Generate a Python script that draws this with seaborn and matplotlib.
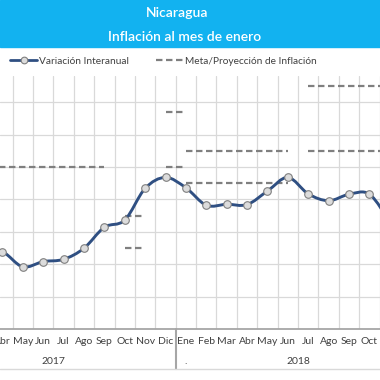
import matplotlib
matplotlib.use("Agg")
import matplotlib.pyplot as plt
import seaborn as sns
from matplotlib.lines import Line2D
from matplotlib.path import Path
from matplotlib.patches import PathPatch, Rectangle
import matplotlib.transforms as mtransforms

# Datos
meses = ['Ene', 'Feb', 'Mar', 'Abr', 'May', 'Jun', 'Jul', 'Ago', 'Sep', 'Oct', 'Nov', 'Dic'] * 2
anios = ['2017', '2018']

# Variacion interanual, de Mar 2017 (indice 2) a Nov 2018 (indice 22)
var_inicio = 2
variacion = [3.45, 3.39, 2.92, 3.08, 3.15, 3.49, 4.14, 4.36, 5.34, 5.68,
             5.36, 4.82, 4.85, 4.84, 5.26, 5.68, 5.17, 4.96, 5.16, 5.16, 4.30]

# Meta/Proyeccion: tramos (mes inicial, mes final, valor)
meta_desde = [0, 9, 9, 11, 11, 12, 12, 18, 18]
meta_hasta = [8, 10, 10, 12, 12, 17, 17, 23, 23]
meta_valor = [6.0, 4.5, 3.5, 7.7, 6.0, 6.5, 5.5, 8.5, 6.5]

azul = '#2F4F82'
gris = '#7F7F7F'
texto = '#404040'
guion = (0, (2.9, 1.6))

sns.set_theme(style='white')
plt.rcParams['font.family'] = ['Lato', 'DejaVu Sans']

fig = plt.figure(figsize=(3.8, 3.8), dpi=100)
ax = fig.add_axes([0, 51 / 380, 1, 253 / 380])

# banda de titulo
fig.patches.append(Rectangle((0, 1 - 47 / 380), 1, 47 / 380, transform=fig.transFigure,
                             color='#12B2F0', zorder=0))
fig.text(0.466, 1 - 13 / 380, 'Nicaragua', color='white', ha='center', va='center',
         fontsize=10, fontweight='semibold')
fig.text(0.487, 1 - 37 / 380, 'Inflación al mes de enero', color='white', ha='center',
         va='center', fontsize=10, fontweight='semibold')

# metas
for s, e, v in zip(meta_desde, meta_hasta, meta_valor):
    sns.lineplot(x=[s, e], y=[v, v], ax=ax, color=gris, lw=1.6, linestyle=guion, zorder=2)

# linea suavizada (bezier tipo excel)
xs = list(range(var_inicio, var_inicio + len(variacion)))
pts = list(zip(xs, variacion))
verts = [pts[0]]
codes = [Path.MOVETO]
n = len(pts)
for i in range(n - 1):
    p0 = pts[i - 1] if i > 0 else pts[i]
    p1 = pts[i]
    p2 = pts[i + 1]
    p3 = pts[i + 2] if i + 2 < n else pts[i + 1]
    c1 = (p1[0] + (p2[0] - p0[0]) / 6, p1[1] + (p2[1] - p0[1]) / 6)
    c2 = (p2[0] - (p3[0] - p1[0]) / 6, p2[1] - (p3[1] - p1[1]) / 6)
    verts += [c1, c2, p2]
    codes += [Path.CURVE4] * 3
ax.add_patch(PathPatch(Path(verts, codes), facecolor='none', edgecolor=azul, lw=2.1,
                       zorder=3, capstyle='round', joinstyle='round'))
sns.scatterplot(x=xs, y=variacion, ax=ax, s=30, color='#DCDCDC', edgecolor=gris,
                linewidth=0.8, zorder=4)

# ejes
ax.set_xticks(range(len(meses)))
ax.set_xticklabels(meses, fontsize=7.5, color=texto)
ax.set_xticks([i + 0.5 for i in range(-1, len(meses))], minor=True)
ax.set_yticks(range(1, 9))
ax.set_yticklabels([])
ax.set_xlim(2.887, 21.515)
ax.set_ylim(1.0, 8.81)
ax.tick_params(axis='x', which='both', length=0, pad=6)
ax.tick_params(axis='y', length=0)
ax.grid(axis='x', which='minor', color='#D9D9D9', lw=0.9)
ax.grid(axis='y', which='major', color='#D9D9D9', lw=0.9)
for side in ['top', 'left', 'right']:
    ax.spines[side].set_visible(False)
ax.spines['bottom'].set_color('#A6A6A6')
ax.spines['bottom'].set_linewidth(1.3)
ax.set_xlabel('')

# etiquetas de anio y separadores
trans = mtransforms.blended_transform_factory(ax.transData, ax.transAxes)
ax.text(5.5, -33 / 253, anios[0], transform=trans, ha='center', va='center', fontsize=7.5, color=texto)
ax.text(17.5, -33 / 253, anios[1], transform=trans, ha='center', va='center', fontsize=7.5, color=texto)
ax.text(12.0, -33 / 253, '.', transform=trans, ha='center', va='center', fontsize=7.5, color=texto)
for xb in [-0.5, 11.5, 23.5]:
    ax.plot([xb, xb], [0, -40 / 253], transform=trans, color='#A6A6A6', lw=1.5, clip_on=False)
fig.add_artist(Line2D([0, 1], [11 / 380, 11 / 380], transform=fig.transFigure, color='#D9D9D9', lw=1))

# leyenda
handles = [Line2D([], [], color=azul, lw=2, marker='o', ms=4.8, mfc='#DCDCDC', mec=gris, mew=0.8),
           Line2D([], [], color=gris, lw=1.6, linestyle=guion)]
leg = fig.legend(handles, ['Variación Interanual', 'Meta/Proyección de Inflación'],
                 loc='center left', bbox_to_anchor=(10 / 380, 1 - 61 / 380), ncol=2,
                 frameon=False, fontsize=7.3, handlelength=2.7, handletextpad=0.2,
                 columnspacing=2.6, borderpad=0, borderaxespad=0, numpoints=1)
for t in leg.get_texts():
    t.set_color(texto)

fig.savefig('out.png', dpi=100)
